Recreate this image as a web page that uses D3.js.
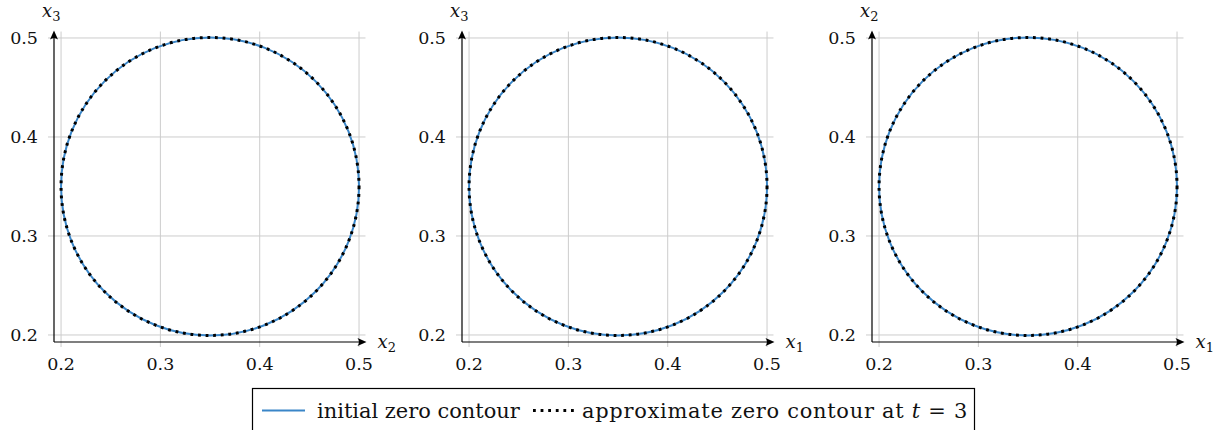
<!DOCTYPE html>
<html lang="en">
<head>
    <meta charset="UTF-8">
    <title>zero contours</title>
    <script src="https://cdn.jsdelivr.net/npm/d3@7"></script>
    <style>
        body { margin: 0; background: #fff; }
        text { font-family: "DejaVu Serif", serif; fill: #111; }
    </style>
</head>
<body>
<script type="application/javascript">

    let w = 1227, h = 430;

    // panels: horizontal / vertical variable names
    let panelX = ['2', '1', '1'];
    let panelY = ['3', '3', '2'];
    let panelLeft = [54, 462, 872];   // where each y axis sits

    let tickValues = [0.2, 0.3, 0.4, 0.5];
    let tickLabels = ['0.2', '0.3', '0.4', '0.5'];

    // initial contour: circle centre and radius (same in every plane)
    let centreX = [0.35, 0.35, 0.35];
    let centreY = [0.35, 0.35, 0.35];
    let radius = [0.15, 0.15, 0.15];

    let legendLabels = ['initial zero contour', 'approximate zero contour at '];

    let blue = '#3a86c8';
    let lo = 0.1929, hi = 0.5065;

    let svg = d3.select('body')
        .append('svg')
        .attr('width', w)
        .attr('height', h);

    panelLeft.forEach((left, i) => {
        let x = d3.scaleLinear().domain([lo, hi]).range([left, left + (hi - lo) * 993.3]);
        let y = d3.scaleLinear().domain([lo, hi]).range([342, 342 - (hi - lo) * 990]);

        let g = svg.append('g');

        // grid
        g.selectAll('line.gx')
            .data(tickValues)
            .enter()
            .append('line')
            .attr('x1', d => x(d)).attr('x2', d => x(d))
            .attr('y1', y(lo) + 5).attr('y2', y(hi))
            .attr('stroke', '#cccccc').attr('stroke-width', 1);
        g.selectAll('line.gy')
            .data(tickValues)
            .enter()
            .append('line')
            .attr('x1', x(lo) - 6).attr('x2', x(hi))
            .attr('y1', d => y(d)).attr('y2', d => y(d))
            .attr('stroke', '#cccccc').attr('stroke-width', 1);

        // tick labels
        g.selectAll('text.tx')
            .data(tickValues)
            .enter()
            .append('text')
            .attr('x', d => x(d))
            .attr('y', 370)
            .attr('text-anchor', 'middle')
            .attr('font-size', 17.5)
            .text((d, k) => tickLabels[k]);
        g.selectAll('text.ty')
            .data(tickValues)
            .enter()
            .append('text')
            .attr('x', left - 16)
            .attr('y', d => y(d) + 6)
            .attr('text-anchor', 'end')
            .attr('font-size', 17.5)
            .text((d, k) => tickLabels[k]);

        // circles
        let r = x(centreX[i] + radius[i]) - x(centreX[i]);
        g.append('circle')
            .attr('cx', x(centreX[i])).attr('cy', y(centreY[i]))
            .attr('r', r)
            .attr('fill', 'none').attr('stroke', blue).attr('stroke-width', 2);
        g.append('circle')
            .attr('cx', x(centreX[i])).attr('cy', y(centreY[i]))
            .attr('r', r)
            .attr('fill', 'none').attr('stroke', '#000').attr('stroke-width', 3)
            .attr('stroke-dasharray', '2.8 4.8');

        // axes with arrows
        let ax = x(lo), ay = y(lo), ex = x(hi) + 1, ey = y(hi) - 1;
        g.append('line')
            .attr('x1', ax).attr('y1', ay).attr('x2', ex - 3).attr('y2', ay)
            .attr('stroke', '#000').attr('stroke-width', 1.2);
        g.append('line')
            .attr('x1', ax).attr('y1', ay).attr('x2', ax).attr('y2', ey + 3)
            .attr('stroke', '#000').attr('stroke-width', 1.2);
        g.append('path')
            .attr('d', 'M' + ex + ',' + ay + ' L' + (ex - 9) + ',' + (ay - 4) +
                ' Q' + (ex - 6) + ',' + ay + ' ' + (ex - 9) + ',' + (ay + 4) + 'Z')
            .attr('fill', '#000');
        g.append('path')
            .attr('d', 'M' + ax + ',' + ey + ' L' + (ax - 4) + ',' + (ey + 9) +
                ' Q' + ax + ',' + (ey + 6) + ' ' + (ax + 4) + ',' + (ey + 9) + 'Z')
            .attr('fill', '#000');

        // axis labels
        let xl = g.append('text')
            .attr('x', x(hi) + 12).attr('y', ay + 6)
            .attr('font-size', 18);
        xl.append('tspan').attr('font-style', 'italic').text('x');
        xl.append('tspan').attr('font-size', 13).attr('dy', 4).text(panelX[i]);

        let yl = g.append('text')
            .attr('x', ax - 12).attr('y', 17)
            .attr('font-size', 18);
        yl.append('tspan').attr('font-style', 'italic').text('x');
        yl.append('tspan').attr('font-size', 13).attr('dy', 4).text(panelY[i]);
    });

    // legend
    let lg = svg.append('g');
    lg.append('rect')
        .attr('x', 252.5).attr('y', 388.5).attr('width', 722).attr('height', 45)
        .attr('fill', '#fff').attr('stroke', '#000').attr('stroke-width', 1.2);
    lg.append('line')
        .attr('x1', 262).attr('x2', 305).attr('y1', 410.5).attr('y2', 410.5)
        .attr('stroke', blue).attr('stroke-width', 2);
    let t1 = lg.append('text')
        .attr('x', 317).attr('y', 418).attr('font-size', 20)
        .text(legendLabels[0]);
    // size the legend font so that the first entry fills the width seen in the reference
    let fs = 20 * 203 / t1.node().getComputedTextLength();
    t1.attr('font-size', fs);
    lg.append('line')
        .attr('x1', 533).attr('x2', 574).attr('y1', 410.5).attr('y2', 410.5)
        .attr('stroke', '#000').attr('stroke-width', 3)
        .attr('stroke-dasharray', '2.8 4.8');
    let lt = lg.append('text')
        .attr('x', 582).attr('y', 418).attr('font-size', fs);
    lt.append('tspan').text(legendLabels[1]);
    lt.append('tspan').attr('font-style', 'italic').text('t');
    lt.append('tspan').text(' = 3');
    // stretch the second entry a little so it ends where the reference one does
    let len2 = lt.node().getComputedTextLength();
    let nChars = (legendLabels[1] + 't = 3').length;
    lt.attr('letter-spacing', Math.max(0, (386 - len2) / nChars));

</script>
</body>
</html>
